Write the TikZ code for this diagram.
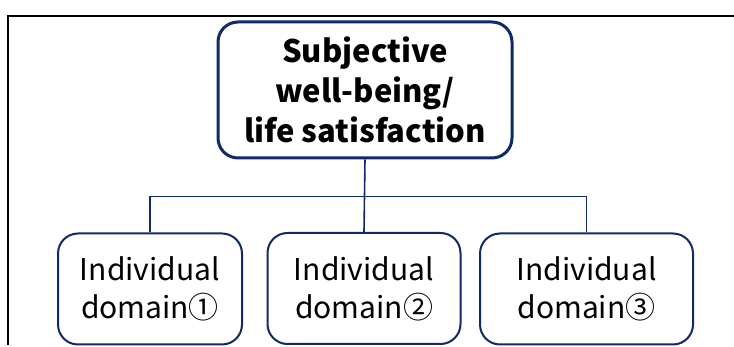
\documentclass[tikz,border=0pt]{standalone}
\usepackage{fontspec}
\setmainfont{Noto Sans CJK JP}
\definecolor{navy}{HTML}{0F2A66}
\begin{document}
\begin{tikzpicture}[x=1pt,y=-1pt,
  topbox/.style={draw=navy,line width=3pt,rounded corners=20pt,align=center,inner sep=0pt,
    minimum width=294pt,minimum height=136pt,font=\fontsize{31}{40}\selectfont\bfseries},
  dombox/.style={draw=navy,line width=2pt,rounded corners=20pt,align=center,inner sep=0pt,
    minimum height=111pt,font=\fontsize{30}{38}\selectfont},
  link/.style={draw=navy,line width=1.6pt}]
\useasboundingbox (0,0) rectangle (734,347);
\draw[line width=2pt] (734,16.5) -- (8,16.5) -- (8,345);
\node[topbox] (top) at (365,90) {Subjective\\well-being/\\life satisfaction};
\node[dombox,minimum width=184pt] (d1) at (150,289) {Individual\\domain①};
\node[dombox,minimum width=193pt] (d2) at (364,288.5) {Individual\\domain②};
\node[dombox,minimum width=213pt] (d3) at (586.5,289) {Individual\\domain③};
\coordinate (bus) at (364,196.5);
\draw[link] (top.south) -- (d2.north);
\draw[link] (d1.north) -- (d1.north |- bus) -- (d3.north |- bus) -- (d3.north);
\end{tikzpicture}
\end{document}
